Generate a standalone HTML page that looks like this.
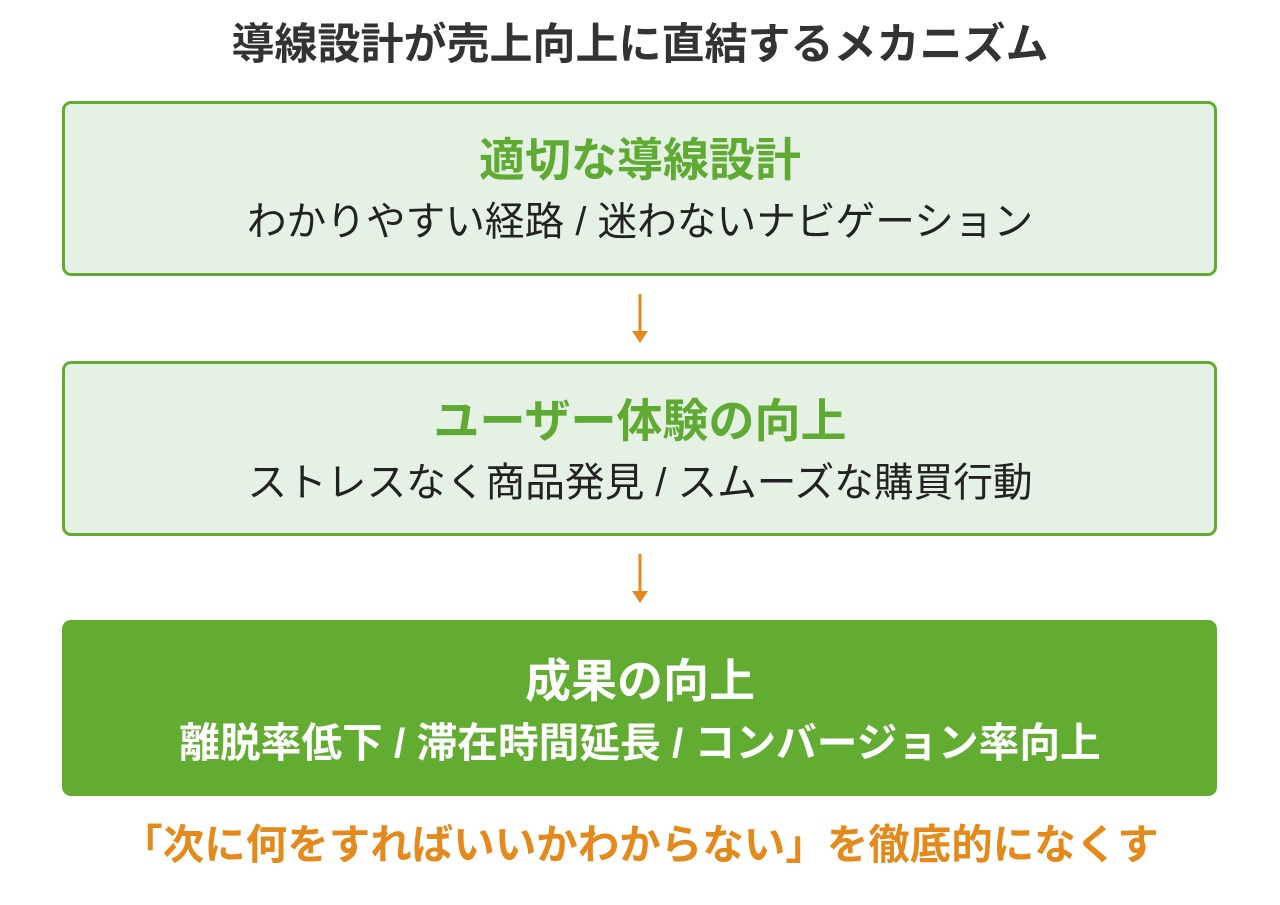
<!DOCTYPE html>
<html><head><meta charset="utf-8"><style>
body{margin:0;width:1280px;height:905px;background:#fff;font-family:"Liberation Sans","Noto Sans CJK JP",sans-serif;position:relative;overflow:hidden}
.t{position:absolute;left:0;width:1280px;text-align:center;white-space:nowrap;height:60px;line-height:60px}
.box{position:absolute;left:62px;width:1155px;height:175px;box-sizing:border-box;border:3px solid #62AC32;border-radius:9px;background:#E6F1E5}
</style></head><body>
<div class="t" style="top:15px;font-size:43px;font-weight:bold;color:#333">導線設計が売上向上に直結するメカニズム</div>
<div class="box" style="top:101px"></div>
<div class="t" style="top:130px;font-size:46px;font-weight:bold;color:#5FAA32">適切な導線設計</div>
<div class="t" style="top:192px;font-size:39.7px;color:#222">わかりやすい経路 / 迷わないナビゲーション</div>
<svg style="position:absolute;left:630px;top:290px" width="20" height="60"><line x1="10" y1="4" x2="10" y2="44" stroke="#E4891C" stroke-width="3"/><polygon points="2,41 18,41 10,53" fill="#E4891C"/></svg>
<div class="box" style="top:361px"></div>
<div class="t" style="top:391px;font-size:46px;font-weight:bold;color:#5FAA32">ユーザー体験の向上</div>
<div class="t" style="top:453px;font-size:39.7px;color:#222">ストレスなく商品発見 / スムーズな購買行動</div>
<svg style="position:absolute;left:630px;top:550px" width="20" height="60"><line x1="10" y1="4" x2="10" y2="44" stroke="#E4891C" stroke-width="3"/><polygon points="2,41 18,41 10,53" fill="#E4891C"/></svg>
<div class="box" style="top:620px;height:176px;background:#62AC32;border:none"></div>
<div class="t" style="top:651px;font-size:46px;font-weight:bold;color:#fff">成果の向上</div>
<div class="t" style="top:713px;font-size:40.7px;font-weight:bold;color:#fff">離脱率低下 / 滞在時間延長 / コンバージョン率向上</div>
<div class="t" style="top:815px;font-size:41.5px;font-weight:bold;color:#E4891C">「次に何をすればいいかわからない」を徹底的になくす</div>
</body></html>
